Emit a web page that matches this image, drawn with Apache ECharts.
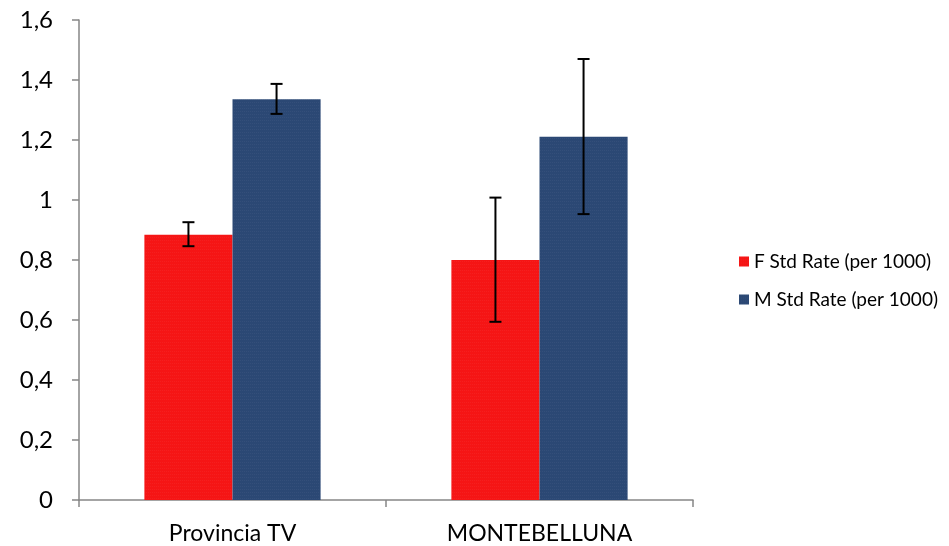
<!DOCTYPE html>
<html><head><meta charset="utf-8">
<script src="https://cdn.jsdelivr.net/npm/echarts@6/dist/echarts.min.js"></script>
<style>html,body{margin:0;padding:0;background:#fff}#c{width:949px;height:546px}</style>
</head><body><div id="c"></div>
<script>
const categories = ['Provincia TV', 'MONTEBELLUNA'];
const seriesNames = ['F Std Rate (per 1000)', 'M Std Rate (per 1000)'];
const fValues = [0.884, 0.80];
const mValues = [1.336, 1.211];
const fLow = [0.846, 0.594];
const fHigh = [0.926, 1.008];
const mLow = [1.287, 0.953];
const mHigh = [1.387, 1.47];
const yTicks = [0, 0.2, 0.4, 0.6, 0.8, 1.0, 1.2, 1.4, 1.6];

const chart = echarts.init(document.getElementById('c'));
const font = 'Lato, "Open Sans", sans-serif';
const colors = ['#f51515', '#2b4874'];

function errSeries(idx, low, high) {
  return {
    type: 'custom',
    name: seriesNames[idx] + ' err',
    z: 10,
    silent: true,
    data: categories.map((c, i) => [i, low[i], high[i]]),
    encode: { x: 0, y: [1, 2] },
    renderItem: function (params, api) {
      const ci = api.value(0);
      const lo = api.coord([ci, api.value(1)]);
      const hi = api.coord([ci, api.value(2)]);
      const bw = api.size([1, 0])[0];
      const barW = bw * 0.287;
      const x = lo[0] + (idx === 0 ? -barW / 2 : barW / 2);
      const cap = 6;
      const st = { stroke: '#000', lineWidth: 2 };
      return { type: 'group', children: [
        { type: 'line', shape: { x1: x, y1: lo[1], x2: x, y2: hi[1] }, style: st },
        { type: 'line', shape: { x1: x - cap, y1: lo[1], x2: x + cap, y2: lo[1] }, style: st },
        { type: 'line', shape: { x1: x - cap, y1: hi[1], x2: x + cap, y2: hi[1] }, style: st }
      ]};
    }
  };
}

const decal = {
  symbol: 'rect', symbolSize: 0.5, color: 'rgba(255,255,255,0.18)',
  dashArrayX: [1, 1], dashArrayY: [1, 2], rotation: 0
};

chart.setOption({
  animation: false,
  grid: { left: 79, right: 256, top: 20, bottom: 46, containLabel: false },
  legend: {
    orient: 'vertical', left: 734, top: 247, itemGap: 19,
    itemWidth: 10, itemHeight: 10, icon: 'rect',
    data: seriesNames,
    textStyle: { fontFamily: font, fontSize: 19, color: '#000' }
  },
  xAxis: {
    type: 'category', data: categories,
    axisLine: { lineStyle: { color: '#868686', width: 1.5 } },
    axisTick: { show: true, length: 7, inside: false, lineStyle: { color: '#868686', width: 1.5 } },
    axisLabel: { fontFamily: font, fontSize: 23, color: '#000', margin: 22 }
  },
  yAxis: {
    type: 'value', min: 0, max: 1.6, interval: 0.2,
    axisLine: { show: true, lineStyle: { color: '#868686', width: 1.5 } },
    axisTick: { show: true, length: 7, lineStyle: { color: '#868686', width: 1.5 } },
    splitLine: { show: false },
    axisLabel: {
      fontFamily: font, fontSize: 24, color: '#000', margin: 26,
      formatter: v => {
        const t = yTicks.find(x => Math.abs(x - v) < 1e-6);
        return (t === undefined ? v : t).toString().replace('.', ',');
      }
    }
  },
  series: [
    { type: 'bar', name: seriesNames[0], data: fValues, itemStyle: { color: colors[0], decal: decal }, barWidth: '28.7%', barGap: '0%' },
    { type: 'bar', name: seriesNames[1], data: mValues, itemStyle: { color: colors[1], decal: decal }, barWidth: '28.7%', barGap: '0%' },
    errSeries(0, fLow, fHigh),
    errSeries(1, mLow, mHigh)
  ]
});
</script></body></html>
